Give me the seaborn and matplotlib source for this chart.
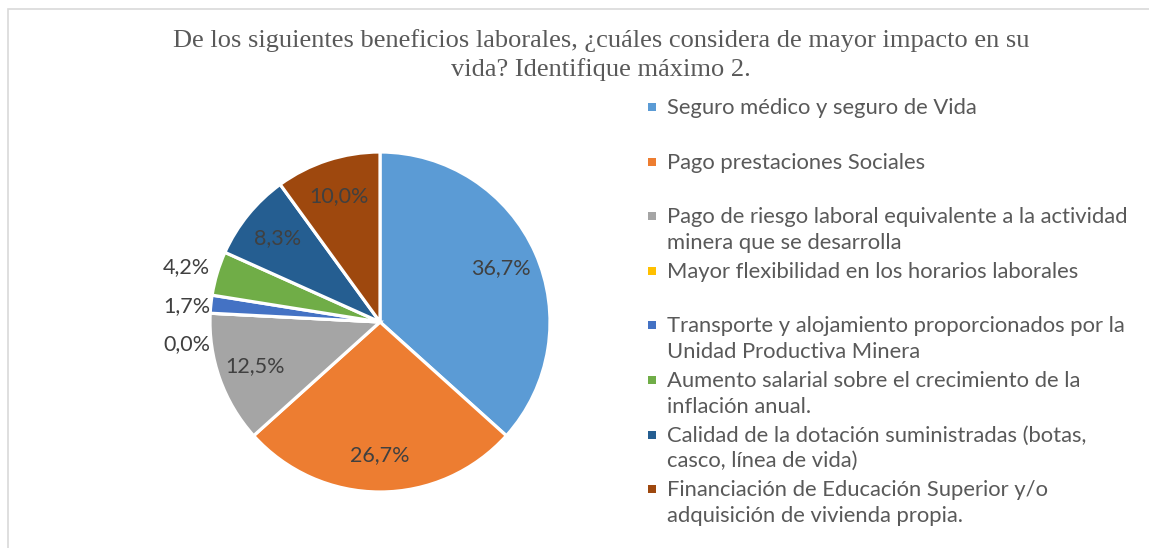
import numpy as np
import matplotlib.pyplot as plt
import seaborn as sns

sns.set_theme(style="white")
plt.rcParams['font.family'] = ['Lato', 'DejaVu Sans']

beneficios = [
    "Seguro médico y seguro de Vida",
    "Pago prestaciones Sociales",
    "Pago de riesgo laboral equivalente a la actividad\nminera que se desarrolla",
    "Mayor flexibilidad en los horarios laborales",
    "Transporte y alojamiento proporcionados por la\nUnidad Productiva Minera",
    "Aumento salarial sobre el crecimiento de la\ninflación anual.",
    "Calidad de la dotación suministradas (botas,\ncasco, línea de vida)",
    "Financiación de Educación Superior y/o\nadquisición de vivienda propia.",
]
porcentajes = [36.7, 26.7, 12.5, 0.0, 1.7, 4.2, 8.3, 10.0]
colores = ["#5B9BD5", "#ED7D31", "#A5A5A5", "#FFC000",
           "#4472C4", "#70AD47", "#255E91", "#9E480E"]
titulo = ("De los siguientes beneficios laborales, ¿cuáles considera de mayor impacto en su\n"
          "vida? Identifique máximo 2.")

W, H = 1149, 548
fig = plt.figure(figsize=(W / 100, H / 100), dpi=100)
fig.patch.set_facecolor("white")

# marco del grafico (solo se ven borde izq. y sup.)
fig.patches.append(plt.Rectangle((8 / W, -0.05), 1.2, 1 - 9 / H + 0.05, transform=fig.transFigure,
                                 fill=False, edgecolor="#D9D9D9", linewidth=1.2))

# ejes del pastel: centro (380, 322) px, radio 170 px
R = 170
lim = 1.3
side = 2 * lim * R
cx, cy = 380, 322
ax = fig.add_axes([(cx - side / 2) / W, (H - cy - side / 2) / H, side / W, side / H])

wedges, _ = ax.pie(porcentajes, colors=colores, startangle=90, counterclock=False,
                   wedgeprops=dict(edgecolor="white", linewidth=2.3))
ax.set_xlim(-lim, lim)
ax.set_ylim(-lim, lim)
ax.set_aspect("equal")
ax.axis("off")

lab_color = "#404040"
fs = 15.5
prev_y = None
# de arriba hacia abajo para separar las etiquetas externas
for w, p in reversed(list(zip(wedges, porcentajes))):
    ang = np.deg2rad((w.theta1 + w.theta2) / 2)
    txt = f"{p:.1f}%".replace(".", ",")
    if p >= 8:
        r = 0.78
        ax.text(r * np.cos(ang), r * np.sin(ang), txt, ha="center", va="center",
                fontsize=fs, color=lab_color)
    else:
        r = 1.12
        x, y = r * np.cos(ang), r * np.sin(ang)
        if prev_y is not None and prev_y - y < 0.225:
            y = prev_y - 0.225
        ax.text(-1.0, y, txt, ha="right", va="center", fontsize=fs, color=lab_color)
        prev_y = y

fig.text(601 / W, 1 - 55 / H, titulo, ha="center", va="center", fontsize=19,
         family=["Liberation Serif", "DejaVu Serif"], color="#595959", linespacing=1.38)

# leyenda
y0, paso = 107, 54.6
for i, (lab, col) in enumerate(zip(beneficios, colores)):
    yc = y0 + paso * i
    fig.patches.append(plt.Rectangle((648 / W, 1 - (yc + 4) / H), 8 / W, 8 / H,
                                     transform=fig.transFigure, color=col, linewidth=0))
    fig.text(667 / W, 1 - (yc - 9) / H, lab, ha="left", va="top", fontsize=15.8,
             color="#595959", linespacing=1.35)

fig.savefig("out.png", dpi=100)
